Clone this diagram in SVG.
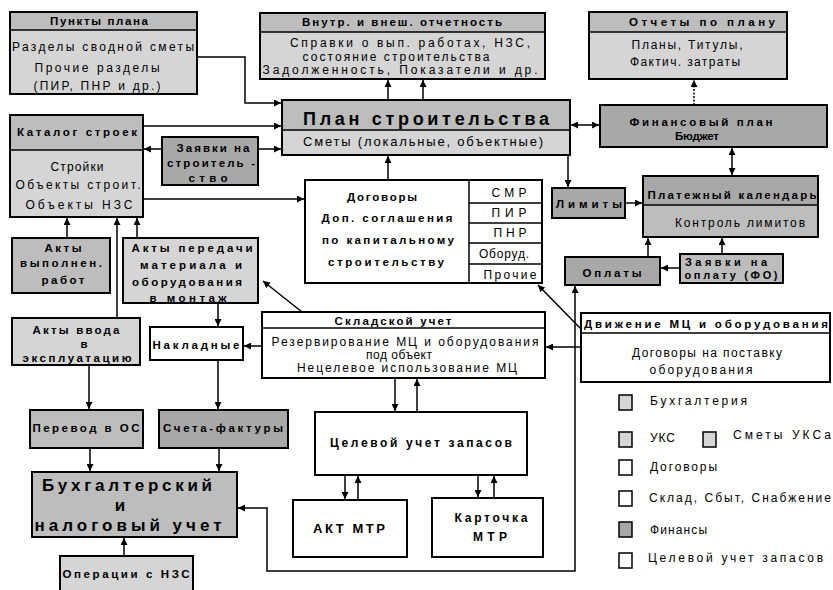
<svg xmlns="http://www.w3.org/2000/svg" width="833" height="590" viewBox="0 0 833 590">
<style>
.bx{stroke:#000;stroke-width:2}
.sep{stroke:#000;stroke-width:1.5;fill:none}
.dk{fill:#a8a8a8}.md{fill:#bdbdbd}.lt{fill:#d5d5d5}.wh{fill:#fff}
text{font-family:"Liberation Sans",Arial,sans-serif;font-size:12px;text-anchor:middle;fill:#000}
.b{font-weight:bold;font-size:11.5px}
.lg{text-anchor:start}
.c{stroke:#000;stroke-width:1.5;fill:none;marker-end:url(#ah)}
.c2{stroke:#000;stroke-width:1.5;fill:none;marker-end:url(#ah);marker-start:url(#ah)}
.sq{stroke:#000;stroke-width:1.5}
.big{font-weight:bold;font-size:17px}
</style>
<defs>
<marker id="ah" viewBox="0 0 10 10" refX="10" refY="5" markerWidth="7" markerHeight="7" markerUnits="userSpaceOnUse" orient="auto-start-reverse"><path d="M0,0 L10,5 L0,10 z" fill="#000"/></marker>
</defs>
<rect width="833" height="590" fill="#fff"/>

<g id="connectors">
<polyline class="c" points="197,57 245,57 245,103 281,103"/>
<line class="c" x1="388" y1="100" x2="388" y2="80"/>
<line class="c" x1="423" y1="100" x2="423" y2="80"/>
<line class="c" x1="694" y1="105" x2="694" y2="80" stroke-dasharray="2 1.5"/>
<line class="c2" x1="571" y1="125" x2="599" y2="125"/>
<line class="c" x1="568" y1="155" x2="568" y2="187"/>
<line class="c" x1="625" y1="203" x2="642" y2="203"/>
<line class="c2" x1="732" y1="148" x2="732" y2="175"/>
<line class="c" x1="648" y1="257" x2="648" y2="238"/>
<line class="c" x1="722" y1="254" x2="722" y2="238"/>
<line class="c" x1="680" y1="268" x2="661" y2="268"/>
<line class="c" x1="143" y1="126" x2="281" y2="126"/>
<line class="c" x1="162" y1="149" x2="144" y2="149"/>
<line class="c" x1="258" y1="149" x2="281" y2="149"/>
<line class="c" x1="143" y1="199" x2="304" y2="199"/>
<line class="c" x1="388" y1="180" x2="388" y2="156"/>
<line class="c" x1="67" y1="238" x2="67" y2="218"/>
<line class="c" x1="117" y1="318" x2="117" y2="218"/>
<line class="c" x1="137" y1="238" x2="137" y2="218"/>
<line class="c" x1="218" y1="303" x2="218" y2="326"/>
<line class="c" x1="302" y1="312" x2="263" y2="281"/>
<line class="c" x1="262" y1="346" x2="244" y2="346"/>
<line class="c" x1="89" y1="365" x2="89" y2="409"/>
<line class="c" x1="218" y1="360" x2="218" y2="409"/>
<line class="c" x1="90" y1="448" x2="90" y2="471"/>
<line class="c" x1="219" y1="448" x2="219" y2="471"/>
<line class="c" x1="124" y1="556" x2="124" y2="538"/>
<line class="c" x1="395" y1="378" x2="395" y2="411"/>
<line class="c" x1="417" y1="412" x2="417" y2="379"/>
<line class="c" x1="345" y1="475" x2="345" y2="499"/>
<line class="c" x1="358" y1="500" x2="358" y2="476"/>
<line class="c" x1="478" y1="475" x2="478" y2="497"/>
<line class="c" x1="494" y1="498" x2="494" y2="476"/>
<line class="c" x1="581" y1="347" x2="546" y2="347"/>
<line class="c" x1="580" y1="328" x2="538" y2="285"/>
<polyline class="c2" points="238,508 267,508 267,571 575,571 575,286"/>
</g>

<g id="punkty">
<rect class="bx md" x="10" y="12" width="187" height="82"/>
<rect class="lt" x="11" y="30" width="185" height="63"/>
<line class="sep" x1="10" y1="30" x2="197" y2="30"/>
<text class="b" x="99" y="25" textLength="98" lengthAdjust="spacing">Пункты плана</text>
<text x="103" y="51" textLength="182" lengthAdjust="spacing">Разделы сводной сметы</text>
<text x="97" y="72" textLength="125" lengthAdjust="spacing">Прочие разделы</text>
<text x="97" y="90" textLength="127" lengthAdjust="spacing">(ПИР, ПНР и др.)</text>
</g>

<g id="otchetnost">
<rect class="bx md" x="260" y="13" width="285" height="66"/>
<rect class="lt" x="261" y="32" width="283" height="46"/>
<line class="sep" x1="260" y1="32" x2="545" y2="32"/>
<text class="b" x="402" y="26" textLength="200" lengthAdjust="spacing">Внутр. и внеш. отчетность</text>
<text x="410" y="47" textLength="240" lengthAdjust="spacing">Справки о вып. работах, НЗС,</text>
<text x="396" y="61" textLength="187" lengthAdjust="spacing">состояние строительства</text>
<text x="400" y="74" textLength="275" lengthAdjust="spacing">Задолженность, Показатели и др.</text>
</g>

<g id="otchety-plan">
<rect class="bx md" x="589" y="12" width="198" height="67"/>
<rect class="lt" x="590" y="32" width="196" height="46"/>
<line class="sep" x1="589" y1="32" x2="787" y2="32"/>
<text class="b" x="702" y="26" textLength="146" lengthAdjust="spacing">Отчеты по плану</text>
<text x="687" y="49" textLength="111" lengthAdjust="spacing">Планы, Титулы,</text>
<text x="685" y="66" textLength="110" lengthAdjust="spacing">Фактич. затраты</text>
</g>

<g id="plan">
<rect class="bx md" x="282" y="100" width="288" height="55"/>
<rect class="lt" x="283" y="130" width="286" height="24"/>
<line class="sep" x1="282" y1="130" x2="570" y2="130"/>
<text x="426" y="125" style="font-weight:bold;font-size:18px" textLength="246" lengthAdjust="spacing">План   строительства</text>
<text x="423" y="146" style="font-size:13px" textLength="240" lengthAdjust="spacing">Сметы (локальные, объектные)</text>
</g>

<g id="finplan">
<rect class="bx dk" x="600" y="105" width="227" height="42"/>
<text class="b" x="701" y="126" textLength="143" lengthAdjust="spacing">Финансовый план</text>
<text class="b" x="697" y="140" textLength="44" lengthAdjust="spacing">Бюджет</text>
</g>

<g id="limity">
<rect class="bx dk" x="552" y="188" width="73" height="30"/>
<text class="b" x="589" y="208" textLength="66" lengthAdjust="spacing">Лимиты</text>
</g>

<g id="kalendar">
<rect class="bx md" x="643" y="176" width="175" height="61"/>
<rect class="dk" x="644" y="177" width="173" height="28"/>
<line class="sep" x1="643" y1="205" x2="818" y2="205"/>
<text class="b" x="732" y="199" textLength="169" lengthAdjust="spacing">Платежный календарь</text>
<text x="740" y="227" textLength="130" lengthAdjust="spacing">Контроль лимитов</text>
</g>

<g id="oplaty">
<rect class="bx dk" x="565" y="257" width="95" height="28"/>
<text class="b" x="612" y="277" textLength="59" lengthAdjust="spacing">Оплаты</text>
</g>

<g id="zayavki-oplata">
<rect class="bx md" x="680" y="254" width="103" height="29"/>
<text class="b" x="726" y="266" style="font-size:11px" textLength="82" lengthAdjust="spacing">Заявки на</text>
<text class="b" x="731" y="279" style="font-size:11px" textLength="93" lengthAdjust="spacing">оплату (ФО)</text>
</g>

<g id="katalog">
<rect class="bx lt" x="10" y="115" width="133" height="102"/>
<rect class="md" x="11" y="116" width="131" height="34"/>
<line class="sep" x1="10" y1="150" x2="143" y2="150"/>
<text class="b" x="77" y="136" textLength="120" lengthAdjust="spacing">Каталог строек</text>
<text x="77" y="171" textLength="53" lengthAdjust="spacing">Стройки</text>
<text x="78" y="189" textLength="125" lengthAdjust="spacing">Объекты строит.</text>
<text x="79" y="209" textLength="107" lengthAdjust="spacing">Объекты НЗС</text>
</g>

<g id="zayavki-str">
<rect class="bx dk" x="162" y="137" width="96" height="48"/>
<text class="b" x="213" y="152" textLength="73" lengthAdjust="spacing">Заявки на</text>
<text class="b" x="211" y="167" textLength="88" lengthAdjust="spacing">строитель -</text>
<text class="b" x="208" y="182" textLength="39" lengthAdjust="spacing">ство</text>
</g>

<g id="dogovory">
<rect class="bx wh" x="305" y="180" width="237" height="103"/>
<line class="sep" x1="469" y1="180" x2="469" y2="283"/>
<line class="sep" x1="469" y1="203" x2="542" y2="203"/>
<line class="sep" x1="469" y1="223" x2="542" y2="223"/>
<line class="sep" x1="469" y1="243" x2="542" y2="243"/>
<line class="sep" x1="469" y1="264" x2="542" y2="264"/>
<text class="b" x="382" y="201" textLength="70" lengthAdjust="spacing">Договоры</text>
<text class="b" x="387" y="222" textLength="131" lengthAdjust="spacing">Доп. соглашения</text>
<text class="b" x="388" y="244" textLength="132" lengthAdjust="spacing">по капитальному</text>
<text class="b" x="386" y="266" textLength="116" lengthAdjust="spacing">строительству</text>
<text x="509" y="197" textLength="35" lengthAdjust="spacing">СМР</text>
<text x="509" y="217" textLength="35" lengthAdjust="spacing">ПИР</text>
<text x="510" y="237" textLength="33" lengthAdjust="spacing">ПНР</text>
<text x="504" y="258" textLength="50" lengthAdjust="spacing">Оборуд.</text>
<text x="510" y="279" textLength="53" lengthAdjust="spacing">Прочие</text>
</g>

<g id="akty-vyp">
<rect class="bx md" x="12" y="238" width="98" height="55"/>
<text class="b" x="63" y="252" textLength="37" lengthAdjust="spacing">Акты</text>
<text class="b" x="61" y="267" textLength="82" lengthAdjust="spacing">выполнен.</text>
<text class="b" x="63" y="284" textLength="43" lengthAdjust="spacing">работ</text>
</g>

<g id="akty-per">
<rect class="bx lt" x="123" y="238" width="135" height="65"/>
<text class="b" x="192" y="252" textLength="121" lengthAdjust="spacing">Акты передачи</text>
<text class="b" x="191" y="269" textLength="102" lengthAdjust="spacing">материала и</text>
<text class="b" x="187" y="286" textLength="110" lengthAdjust="spacing">оборудования</text>
<text class="b" x="188" y="302" textLength="77" lengthAdjust="spacing">в монтаж</text>
</g>

<g id="akty-vvoda">
<rect class="bx lt" x="12" y="318" width="128" height="47"/>
<text class="b" x="76" y="334" textLength="87" lengthAdjust="spacing">Акты ввода</text>
<text class="b" x="84" y="348">в</text>
<text class="b" x="77" y="362" textLength="109" lengthAdjust="spacing">эксплуатацию</text>
</g>

<g id="nakladnye">
<rect class="bx wh" x="150" y="327" width="93" height="33"/>
<text class="b" x="196" y="349" textLength="87" lengthAdjust="spacing">Накладные</text>
</g>

<g id="sklad">
<rect class="bx wh" x="262" y="312" width="283" height="66"/>
<line class="sep" x1="262" y1="328" x2="545" y2="328"/>
<text class="b" x="393" y="325" textLength="117" lengthAdjust="spacing">Складской учет</text>
<text x="405" y="346" textLength="267" lengthAdjust="spacing">Резервирование МЦ и оборудования</text>
<text x="399" y="359" textLength="66" lengthAdjust="spacing">под объект</text>
<text x="407" y="372" textLength="220" lengthAdjust="spacing">Нецелевое использование МЦ</text>
</g>

<g id="dvizhenie">
<rect class="bx wh" x="581" y="313" width="249" height="69"/>
<line class="sep" x1="581" y1="333" x2="830" y2="333"/>
<text class="b" x="706" y="328" textLength="244" lengthAdjust="spacing">Движение МЦ и оборудования</text>
<text x="707" y="357" textLength="150" lengthAdjust="spacing">Договоры на поставку</text>
<text x="701" y="374" textLength="103" lengthAdjust="spacing">оборудования</text>
</g>

<g id="celevoy">
<rect class="bx wh" x="315" y="412" width="212" height="63"/>
<text class="b" x="421" y="447" style="font-size:12px" textLength="182" lengthAdjust="spacing">Целевой учет запасов</text>
</g>

<g id="akt-mtr">
<rect class="bx wh" x="293" y="500" width="114" height="57"/>
<text class="b" x="349" y="533" style="font-size:13px" textLength="72" lengthAdjust="spacing">АКТ МТР</text>
</g>

<g id="kartochka">
<rect class="bx wh" x="432" y="498" width="111" height="59"/>
<text class="b" x="491" y="522" style="font-size:12px" textLength="73" lengthAdjust="spacing">Карточка</text>
<text class="b" x="490" y="541" style="font-size:12px" textLength="34" lengthAdjust="spacing">МТР</text>
</g>

<g id="perevod">
<rect class="bx md" x="30" y="410" width="113" height="38"/>
<text class="b" x="86" y="432" textLength="107" lengthAdjust="spacing">Перевод в ОС</text>
</g>

<g id="scheta">
<rect class="bx dk" x="159" y="410" width="129" height="38"/>
<text class="b" x="223" y="432" textLength="120" lengthAdjust="spacing">Счета-фактуры</text>
</g>

<g id="buh">
<rect class="bx md" x="32" y="472" width="205" height="65"/>
<text class="big" x="127" y="491" textLength="170" lengthAdjust="spacing">Бухгалтерский</text>
<text class="big" x="120" y="511">и</text>
<text class="big" x="128" y="531" textLength="187" lengthAdjust="spacing">налоговый учет</text>
</g>

<g id="operacii">
<rect class="bx lt" x="60" y="556" width="133" height="40"/>
<text class="b" x="126" y="578" textLength="127" lengthAdjust="spacing">Операции с НЗС</text>
</g>

<g id="legend">
<rect class="sq lt" x="619" y="395" width="13" height="15"/>
<text class="lg" x="650" y="405" textLength="97" lengthAdjust="spacing">Бухгалтерия</text>
<rect class="sq lt" x="619" y="432" width="13" height="15"/>
<text class="lg" x="650" y="442" textLength="25" lengthAdjust="spacing">УКС</text>
<rect class="sq lt" x="703" y="432" width="13" height="15"/>
<text class="lg" x="733" y="439" textLength="98" lengthAdjust="spacing">Сметы УКСа</text>
<rect class="sq wh" x="619" y="460" width="13" height="15"/>
<text class="lg" x="650" y="471" textLength="67" lengthAdjust="spacing">Договоры</text>
<rect class="sq wh" x="619" y="491" width="13" height="15"/>
<text class="lg" x="649" y="502" textLength="182" lengthAdjust="spacing">Склад, Сбыт, Снабжение</text>
<rect class="sq dk" x="619" y="522" width="13" height="15"/>
<text class="lg" x="650" y="534" textLength="57" lengthAdjust="spacing">Финансы</text>
<rect class="sq wh" x="619" y="553" width="13" height="15"/>
<text class="lg" x="648" y="562" textLength="175" lengthAdjust="spacing">Целевой учет запасов</text>
</g>
</svg>
